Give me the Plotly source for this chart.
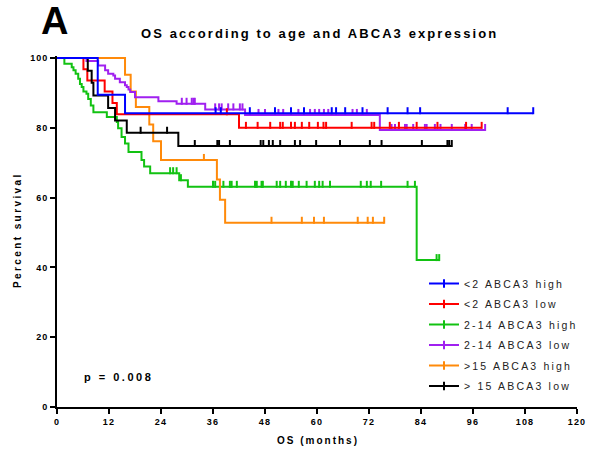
import plotly.graph_objects as go

# ---------------- data ----------------
groups = ["<2 ABCA3 high", "<2 ABCA3 low", "2-14 ABCA3 high",
          "2-14 ABCA3 low", ">15 ABCA3 high", "> 15 ABCA3 low"]
colors = ["#0000FF", "#FF0000", "#12C212", "#A020F0", "#FF8A0A", "#000000"]

blue_t = [0, 9.4, 15.7]
blue_s = [100, 89.5, 84.2]
blue_end = 109.9
blue_c = [36.6, 37.8, 44.5, 50.3, 54.0, 57.0, 63.4, 64.4, 66.5, 70.5, 76.3,
          80.9, 83.8, 104.0, 109.9]

red_t = [0, 6.1, 7.0, 11.0, 12.8, 13.8, 42.0]
red_s = [100, 96.8, 93.6, 90.4, 87.1, 83.9, 80.0]
red_end = 98.0
red_c = [39.2, 43.6, 46.3, 49.2, 51.5, 52.1, 54.0, 54.9, 56.5, 58.2, 60.2,
         61.5, 62.1, 68.0, 72.6, 73.2, 76.8, 78.9, 83.0, 87.8, 94.4, 98.0]

green_t = [0, 1.7, 3.4, 3.8, 4.3, 4.9, 5.3, 5.7, 6.1, 6.8, 7.2, 7.8, 8.4,
           11.5, 13.8, 14.1, 14.9, 15.7, 16.5, 19.5, 20.1, 21.5, 28.2, 30.2,
           83.0]
green_s = [100, 98.4, 97.4, 96.5, 95.5, 94.1, 92.6, 91.7, 90.4, 89.8, 88.3,
           86.4, 84.5, 83.1, 81.7, 79.9, 77.4, 75.5, 73.1, 70.8, 68.9, 67.0,
           65.0, 63.1, 42.1]
green_end = 88.2
green_c = [26.1, 26.8, 27.6, 28.6, 36.0, 36.5, 38.4, 39.9, 40.3, 41.5, 45.7,
           46.1, 47.2, 47.5, 50.7, 51.5, 52.8, 54.0, 54.4, 55.8, 57.6, 59.5,
           60.5, 61.3, 63.0, 70.1, 71.5, 72.4, 74.8, 80.9, 82.6, 87.6, 88.2]

purple_t = [0, 6.8, 9.5, 11.1, 11.8, 13.0, 13.4, 14.5, 15.7, 16.1, 16.5,
            16.9, 18.0, 23.4, 27.6, 34.2, 43.4, 74.5]
purple_s = [100, 99.2, 97.9, 96.5, 95.5, 95.0, 94.1, 93.1, 92.2, 91.7, 91.0,
            90.3, 88.8, 87.6, 86.9, 85.3, 83.7, 79.4]
purple_end = 98.8
purple_c = [28.8, 29.9, 31.1, 31.5, 31.8, 36.5, 37.4, 38.0, 39.5, 40.7, 42.2,
            42.8, 46.5, 48.0, 51.1, 52.2, 55.7, 58.4, 59.5, 60.5, 61.6, 62.6,
            68.2, 69.2, 71.5, 77.2, 78.0, 80.3, 80.7, 82.2, 84.9, 85.3, 87.2,
            88.5, 91.1, 94.2, 95.7, 98.8]

orange_t = [0, 15.7, 17.0, 18.2, 21.3, 22.2, 24.0, 36.9, 37.6, 38.8]
orange_s = [100, 95.2, 90.4, 86.0, 81.0, 76.2, 70.8, 65.2, 59.4, 52.8]
orange_end = 75.5
orange_c = [33.9, 49.5, 56.5, 59.3, 61.6, 69.4, 71.7, 72.9, 75.5]

black_t = [0, 7.1, 8.0, 8.4, 11.8, 13.4, 16.1, 28.0]
black_s = [100, 96.4, 92.9, 89.3, 85.7, 82.1, 78.6, 74.8]
black_end = 91.1
black_c = [19.3, 25.4, 31.8, 37.0, 37.4, 39.9, 47.0, 47.6, 48.9, 49.8, 51.5,
           54.9, 56.1, 59.8, 65.3, 72.2, 74.9, 84.2, 90.1, 90.5, 91.1]

x_ticks = [0, 12, 24, 36, 48, 60, 72, 84, 96, 108, 120]
y_ticks = [0, 20, 40, 60, 80, 100]

title_text = "OS according to age and ABCA3 expression"
x_title = "OS (months)"
y_title = "Percent survival"
p_text = "p = 0.008"
panel_label = "A"

series = [
    (blue_t, blue_s, blue_end, blue_c),
    (red_t, red_s, red_end, red_c),
    (green_t, green_s, green_end, green_c),
    (purple_t, purple_s, purple_end, purple_c),
    (orange_t, orange_s, orange_end, orange_c),
    (black_t, black_s, black_end, black_c),
]

# ---------------- layout helpers ----------------
W, H = 591, 452
L, R, T, B = 57, 14, 56, 45
PW, PH = W - L - R, H - T - B
YMAX = 100.6


def px_x(px):
    return (px - L) / PW


def px_y(py):
    return 1 - (py - T) / PH


def ls(text, sp):
    return '<span style="letter-spacing:%spx">%s</span>' % (sp, text)


def esc(s):
    return s.replace("<", "&lt;").replace(">", "&gt;")


FONT = "Liberation Sans, Arial, sans-serif"
fig = go.Figure()

draw_order = [2, 4, 3, 1, 5, 0]
for gi in draw_order:
    t, s, end, cens = series[gi]
    col = colors[gi]
    fig.add_trace(go.Scatter(
        x=t + [end], y=s + [s[-1]], mode="lines", line=dict(color=col, width=2, shape="hv"),
        showlegend=False, hoverinfo="skip"))
    lev = []
    for c in cens:
        v = s[0]
        for ti, si in zip(t, s):
            if ti <= c:
                v = si
        lev.append(v + 0.72)
    fig.add_trace(go.Scatter(
        x=cens, y=lev, mode="markers",
        marker=dict(symbol="line-ns", size=5, color=col, line=dict(color=col, width=2)),
        showlegend=False, hoverinfo="skip", cliponaxis=False))

for gi, name in enumerate(groups):
    col = colors[gi]
    fig.add_trace(go.Scatter(
        x=[None], y=[None], mode="lines+markers", name=ls(esc(name), 2.2),
        legendgroup="g%d" % gi,
        line=dict(color=col, width=2),
        marker=dict(symbol="line-ns", size=6, color=col, line=dict(color=col, width=2))))

fig.update_layout(
    width=W, height=H,
    margin=dict(l=L, r=R, t=T, b=B, pad=0, autoexpand=False),
    paper_bgcolor="white", plot_bgcolor="white",
    font=dict(family=FONT, color="black"),
    showlegend=True,
    legend=dict(x=px_x(424), y=px_y(269), xanchor="left", yanchor="top",
                font=dict(family=FONT, size=10.5, color="#222"),
                traceorder="grouped", tracegroupgap=1.5,
                bgcolor="rgba(0,0,0,0)", borderwidth=0),
    xaxis=dict(range=[0, 120], tickmode="array", tickvals=x_ticks,
               ticktext=[ls(str(v), 1.2) for v in x_ticks],
               ticks="outside", ticklen=5, tickwidth=2, tickcolor="black",
               showline=True, linewidth=2, linecolor="black",
               showgrid=False, zeroline=False, automargin=False,
               tickfont=dict(family=FONT, size=9, weight="bold", color="black")),
    yaxis=dict(range=[0, YMAX], tickmode="array", tickvals=y_ticks,
               ticktext=[ls(str(v), 1.0) for v in y_ticks],
               ticks="outside", ticklen=5, tickwidth=2, tickcolor="black",
               showline=True, linewidth=2, linecolor="black",
               showgrid=False, zeroline=False, automargin=False,
               tickfont=dict(family=FONT, size=9, weight="bold", color="black")),
)

ann = [
    dict(text=panel_label, x=px_x(54), y=px_y(21), font=dict(size=38, weight="bold")),
    dict(text=ls(title_text, 2.1), x=px_x(319), y=px_y(33), font=dict(size=13, weight="bold")),
    dict(text=ls(x_title, 2.0), x=px_x(318), y=px_y(440), font=dict(size=10, weight="bold")),
    dict(text=ls(y_title, 2.4), x=px_x(17), y=px_y(230), textangle=-90,
         font=dict(size=10, weight="bold")),
    dict(text=ls(p_text, 2.5), x=px_x(82), y=px_y(377), xanchor="left",
         font=dict(size=11, weight="bold")),
]
for a in ann:
    a.setdefault("xanchor", "center")
    a.update(xref="paper", yref="paper", showarrow=False, yanchor="middle")
    a["font"].update(family=FONT, color="black")
    fig.add_annotation(**a)

fig.write_html("out.html")
